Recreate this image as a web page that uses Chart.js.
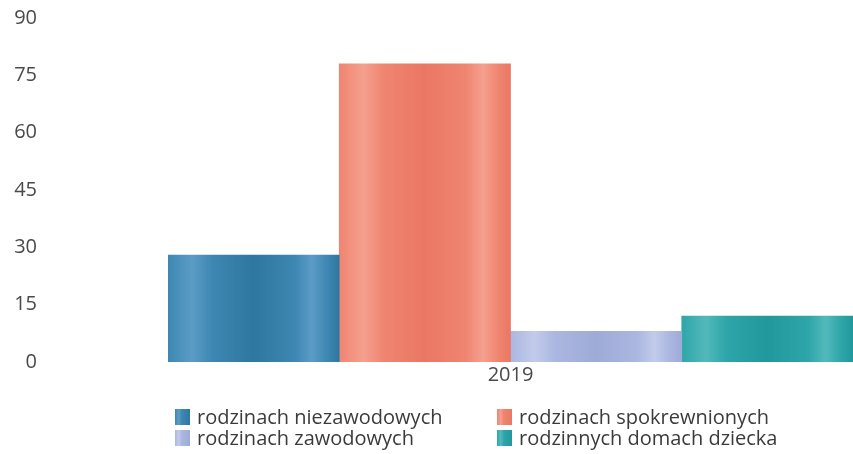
<!DOCTYPE html>
<html>
<head>
<meta charset="utf-8">
<script src="https://cdn.jsdelivr.net/npm/chart.js@4"></script>
<style>
  html, body { margin: 0; padding: 0; background: #fff; }
  #wrap { position: relative; width: 853px; height: 454px; }
  #legend {
    position: absolute; left: 175px; top: 406px;
    display: grid; grid-template-columns: 322px auto;
    font-family: 'Open Sans', sans-serif; font-size: 20px; color: #3b3b3b;
  }
  .item { display: flex; align-items: center; height: 21px; white-space: nowrap; }
  .box { width: 15px; height: 16px; margin-right: 7px; }
</style>
</head>
<body>
<div id="wrap">
  <canvas id="mainChart" width="853" height="454"></canvas>
  <div id="legend"></div>
</div>
<script>
const categories = ['2019'];
const seriesNames = [
  'rodzinach niezawodowych',
  'rodzinach spokrewnionych',
  'rodzinach zawodowych',
  'rodzinnych domach dziecka'
];
const seriesValues = [[28], [78], [8], [12]];
const yMin = 0, yMax = 90, yStep = 15;

// dark / mid / light shades for the cylinder-ish stripes
const palette = [
  { dark: '#2e77a0', mid: '#3d87b2', light: '#5b9cc6' },
  { dark: '#ea7763', mid: '#ef8571', light: '#f5a08e' },
  { dark: '#9eabd8', mid: '#abb7e0', light: '#c2cbeb' },
  { dark: '#21989b', mid: '#2ea6a9', light: '#52b9bb' }
];
const stripeStops = [[0, 'mid'], [0.14, 'light'], [0.26, 'mid'], [0.5, 'dark'], [0.74, 'mid'], [0.84, 'light'], [0.93, 'mid'], [1, 'dark']];

function stripeFill(i) {
  return (ctx) => {
    const area = ctx.chart.chartArea;
    const c = palette[i];
    if (!area) return c.mid;
    const g = ctx.chart.ctx.createLinearGradient(area.left, 0, area.right, 0);
    const n = seriesNames.length;
    stripeStops.forEach(([f, k]) => g.addColorStop(Math.min(1, (i + f) / n), c[k]));
    return g;
  };
}

const tickFont = { family: "'Open Sans', sans-serif", size: 20 };

new Chart(document.getElementById('mainChart').getContext('2d'), {
  type: 'bar',
  data: {
    labels: categories,
    datasets: seriesNames.map((name, i) => ({
      label: name,
      data: seriesValues[i],
      backgroundColor: stripeFill(i),
      borderWidth: 0,
      categoryPercentage: 1,
      barPercentage: 1
    }))
  },
  options: {
    responsive: false,
    animation: false,
    layout: { padding: { top: 18, left: 0, right: 0, bottom: 0 } },
    scales: {
      x: {
        grid: { display: false, drawTicks: false },
        border: { display: false },
        ticks: { font: tickFont, color: '#4a4a4a', padding: 1 },
        afterFit: s => { s.height = 92; }
      },
      y: {
        min: yMin, max: yMax,
        grid: { display: false, drawTicks: false },
        border: { display: false },
        ticks: { stepSize: yStep, font: tickFont, color: '#4a4a4a', padding: 131 },
        afterFit: s => { s.width = 168; s.paddingTop = 0; s.paddingBottom = 0; }
      }
    },
    plugins: { legend: { display: false }, tooltip: { enabled: false } }
  }
});

// two-column legend like the original
const legend = document.getElementById('legend');
seriesNames.forEach((name, i) => {
  const c = palette[i];
  const item = document.createElement('div');
  item.className = 'item';
  const box = document.createElement('span');
  box.className = 'box';
  box.style.background = `linear-gradient(to right, ${c.mid}, ${c.light} 25%, ${c.mid} 45%, ${c.dark})`;
  const txt = document.createElement('span');
  txt.textContent = name;
  item.appendChild(box);
  item.appendChild(txt);
  legend.appendChild(item);
});
</script>
</body>
</html>
